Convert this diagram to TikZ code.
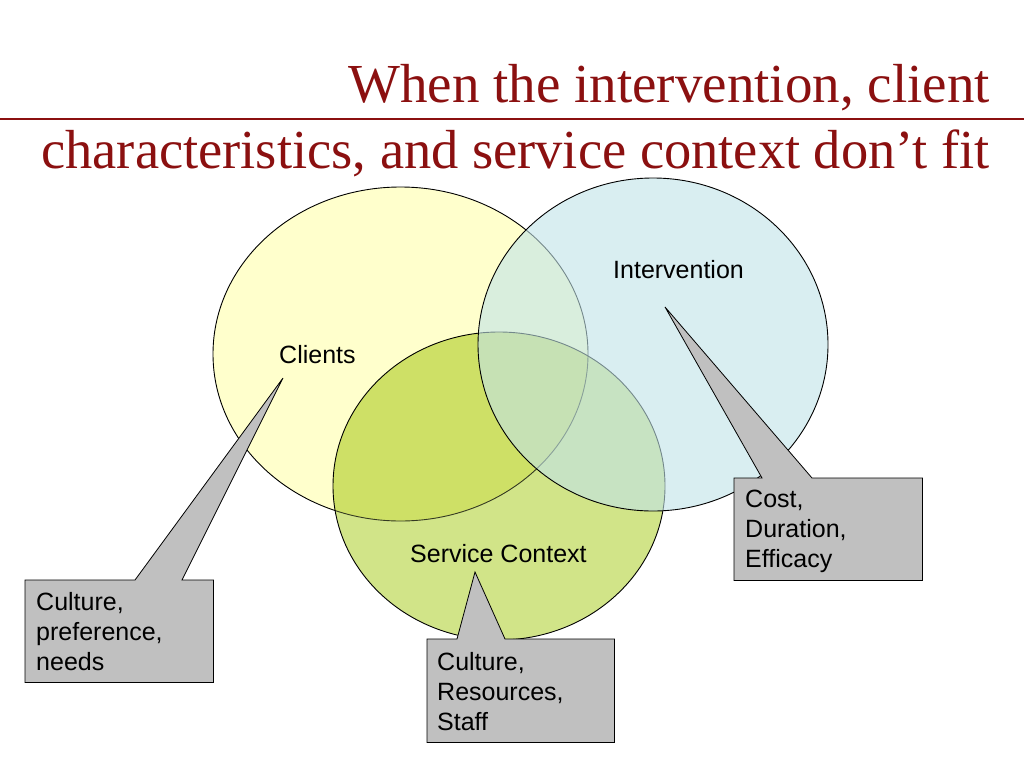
\documentclass[tikz,border=0pt]{standalone}
\usepackage{fontspec}
\setmainfont{Liberation Sans}
\newfontfamily\titlefont{Liberation Serif}
\usetikzlibrary{calc}
\definecolor{titlered}{RGB}{139,16,16}
\definecolor{clientfill}{RGB}{255,255,204}
\definecolor{servfill}{RGB}{209,228,136}
\definecolor{servclient}{RGB}{206,224,102}
\definecolor{intbase}{RGB}{193,227,233}
\definecolor{calloutgray}{RGB}{192,192,192}
\begin{document}
\begin{tikzpicture}[x=1pt,y=-1pt,
  titletext/.style={font=\titlefont\fontsize{55}{60}\selectfont, text=titlered, inner sep=0pt},
  circlabel/.style={font=\fontsize{25}{30}\selectfont, inner sep=0pt, anchor=base west},
  boxtext/.style={font=\fontsize{25}{30}\selectfont, inner sep=0pt, anchor=north west, align=left},
  boxshape/.style={draw=none, inner sep=0pt, anchor=north west},
  callout/.style={fill=calloutgray, draw=black, line width=0.8pt, line join=miter},
  vennline/.style={draw=black, line width=0.9pt}
]
\useasboundingbox (0,0) rectangle (1024,768);
\fill[white] (0,0) rectangle (1024,768);

% title
\node[titletext, anchor=base east] (t1) at (990,102) {When the intervention, client};
\node[titletext, anchor=base east, xscale=0.99, transform shape] (t2) at (990,168) {characteristics, and service context don’t fit};
\coordinate (rl) at (0,119);
\coordinate (rr) at (1024,119);
\draw[titlered, line width=1.5pt] (rl) -- (rr);

% Clients ellipse
\fill[clientfill] (400.5,354) ellipse [x radius=187.5, y radius=167];
\draw[vennline] (400.5,354) ellipse [x radius=187.5, y radius=167];

% Service context ellipse
\fill[servfill] (499,486) ellipse [x radius=166, y radius=154];
\begin{scope}
  \clip (400.5,354) ellipse [x radius=187.5, y radius=167];
  \fill[servclient] (499,486) ellipse [x radius=166, y radius=154];
\end{scope}
\begin{scope}
  \clip (499,486) ellipse [x radius=166, y radius=154];
  \draw[draw=black!75!servfill, line width=0.9pt] (400.5,354) ellipse [x radius=187.5, y radius=167];
\end{scope}
\draw[vennline] (499,486) ellipse [x radius=166, y radius=154];

% Intervention ellipse
\fill[intbase, fill opacity=0.6] (653,344.5) ellipse [x radius=175, y radius=166.5];
\draw[vennline] (653,344.5) ellipse [x radius=175, y radius=166.5];

% circle labels
\node[circlabel] (lclients) at (279,363) {Clients};
\node[circlabel] (lint) at (613,278) {Intervention};
\node[circlabel] (lserv) at (410,562) {Service Context};

% callout: clients
\node[boxshape, minimum width=188pt, minimum height=102pt] (cbox) at (25,580) {};
\coordinate (ctip) at (283,378);
\filldraw[callout] (cbox.north west) -- ($(cbox.north west)+(110,0)$) -- (ctip)
  -- ($(cbox.north west)+(157,0)$) -- (cbox.north east) -- (cbox.south east)
  -- (cbox.south west) -- cycle;
\node[boxtext] (ctext) at ($(cbox.north west)+(11,12)$) {Culture,\\preference,\\needs};

% callout: intervention
\node[boxshape, minimum width=188pt, minimum height=102pt] (ibox) at (734,478) {};
\coordinate (itip) at (665,307);
\filldraw[callout] (ibox.north west) -- ($(ibox.north west)+(28,0)$) -- (itip)
  -- ($(ibox.north west)+(78,0)$) -- (ibox.north east) -- (ibox.south east)
  -- (ibox.south west) -- cycle;
\node[boxtext] (itext) at ($(ibox.north west)+(11,12)$) {Cost,\\Duration,\\Efficacy};

% callout: service context
\node[boxshape, minimum width=187pt, minimum height=103pt] (sbox) at (427,639) {};
\coordinate (stip) at (475,572);
\filldraw[callout] (sbox.north west) -- ($(sbox.north west)+(30,0)$) -- (stip)
  -- ($(sbox.north west)+(78,0)$) -- (sbox.north east) -- (sbox.south east)
  -- (sbox.south west) -- cycle;
\node[boxtext] (stext) at ($(sbox.north west)+(10,13)$) {Culture,\\Resources,\\Staff};
\end{tikzpicture}
\end{document}
